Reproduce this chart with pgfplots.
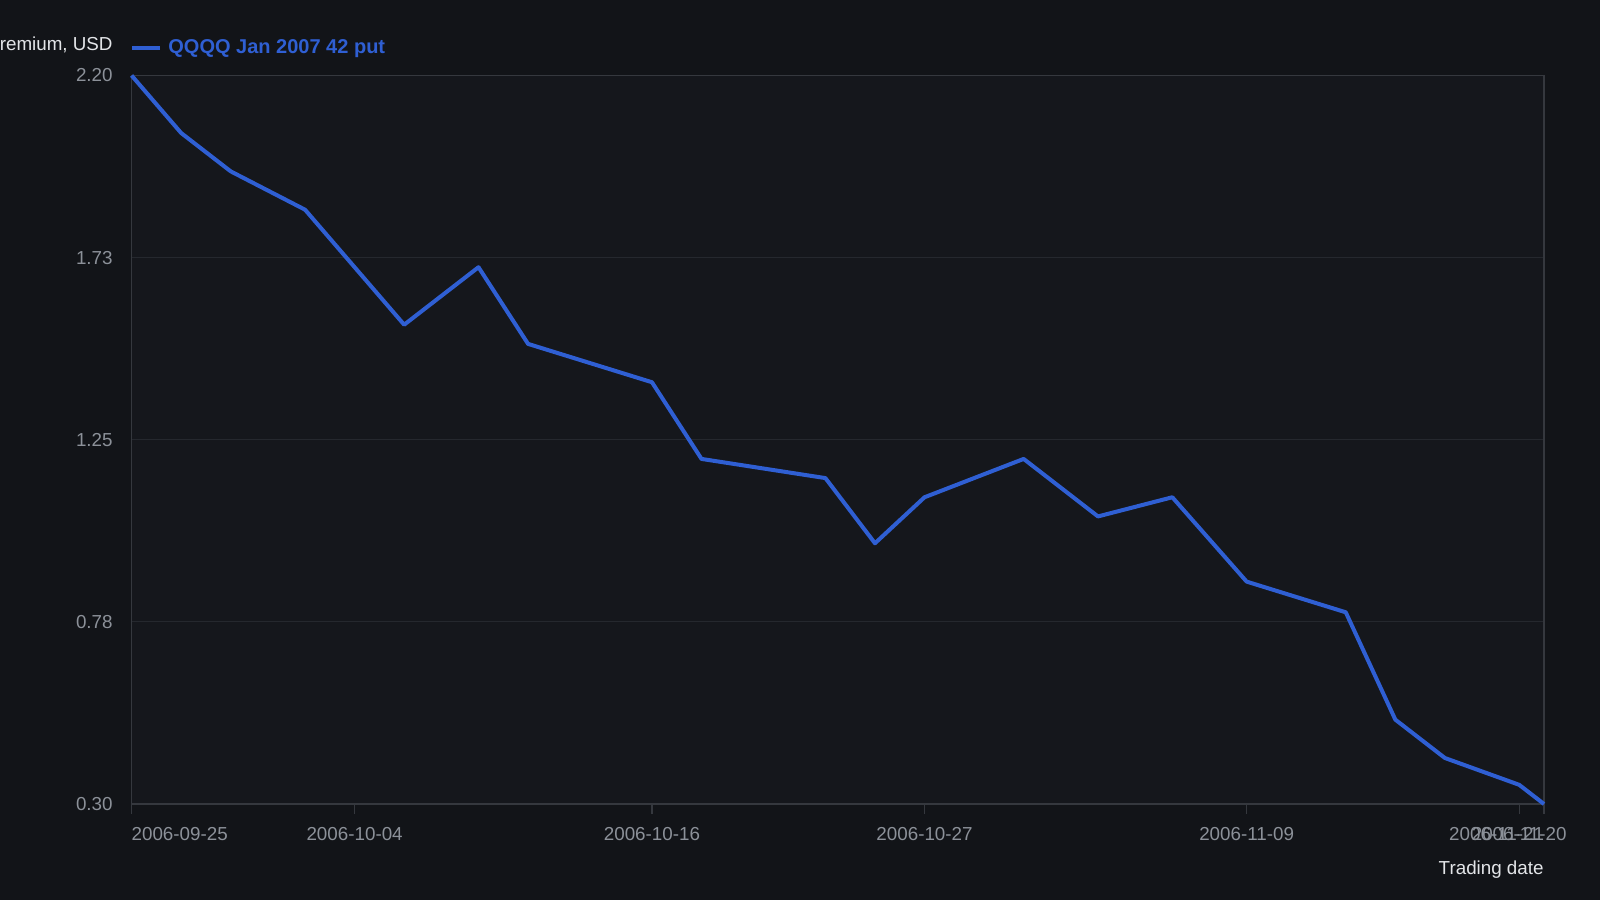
\documentclass[border=0pt]{standalone}
\usepackage{fontspec}
\setmainfont{Liberation Sans}
\usepackage{pgfplots}
\pgfplotsset{compat=1.18}

\definecolor{bgout}{HTML}{121418}
\definecolor{plotbg}{HTML}{15171C}
\definecolor{gridcol}{HTML}{25282E}
\definecolor{boxcol}{HTML}{35383E}
\definecolor{tickcol}{HTML}{8C9199}
\definecolor{labcol}{HTML}{E3E5E8}
\definecolor{linecol}{HTML}{2F5FD3}

% x = trading days after 2006-09-25
\pgfplotstableread{
day premium
0  2.20
2  2.05
4  1.95
7  1.85
11 1.55
14 1.70
16 1.50
21 1.40
23 1.20
28 1.15
30 0.98
32 1.10
36 1.20
39 1.05
42 1.10
45 0.88
49 0.80
51 0.52
53 0.42
56 0.35
57 0.30
}\putdata

\begin{document}
\begin{tikzpicture}
\path[use as bounding box, fill=bgout] (0pt,0pt) rectangle (800pt,450pt);
\begin{axis}[
    at={(65.8pt,48pt)}, anchor=south west,
    scale only axis, width=706.2pt, height=364.25pt,
    xmin=0, xmax=57, ymin=0.3, ymax=2.2,
    clip=false,
    axis background/.style={fill=plotbg},
    axis line style={draw=boxcol, line width=0.7pt},
    ymajorgrids, grid style={draw=gridcol, line width=0.6pt},
    xtick={0,9,21,32,45,56,57},
    xticklabels={\makebox[0pt][l]{2006-09-25},2006-10-04,2006-10-16,2006-10-27,2006-11-09,2006-11-20,\makebox[0pt][r]{2006-11-21}},
    ytick={0.3,0.775,1.25,1.725,2.2},
    yticklabels={0.30,0.78,1.25,1.73,2.20},
    xtick pos=lower, ytick pos=left,
    tick align=outside, major tick length=5pt,
    xtick style={draw=boxcol, line width=0.7pt},
    ytick style={draw=none},
    ticklabel style={font=\fontsize{9.4}{11}\selectfont, text=tickcol, inner sep=0pt},
    xticklabel style={anchor=north, yshift=-6.5pt},
    yticklabel style={anchor=east, xshift=-4.3pt},
    /pgf/number format/assume math mode=true,
    xlabel={Trading date},
    every axis x label/.style={at={(rel axis cs:1,0)}, anchor=base east, yshift=-35pt,
        inner sep=0pt, font=\fontsize{9.4}{11}\selectfont, text=labcol},
    ylabel={Premium, USD},
    every axis y label/.style={at={(rel axis cs:0,1)}, anchor=base east, xshift=-9.3pt, yshift=12.6pt,
        inner sep=0pt, font=\fontsize{9.4}{11}\selectfont, text=labcol},
    legend image code/.code={\draw[#1] (0pt,0pt) -- (14pt,0pt);},
    legend style={at={(rel axis cs:0,1)}, anchor=west, xshift=-1pt, yshift=13.6pt,
        draw=none, fill=none, inner sep=0pt, column sep=3.2pt,
        nodes={inner sep=0pt},
        font=\fontsize{10}{12}\selectfont\bfseries, text=linecol},
]
\addplot[color=linecol, line width=2pt, line join=round] table[x=day, y=premium] {\putdata};
\addlegendentry{QQQQ Jan 2007 42 put}
\end{axis}
\end{tikzpicture}
\end{document}
